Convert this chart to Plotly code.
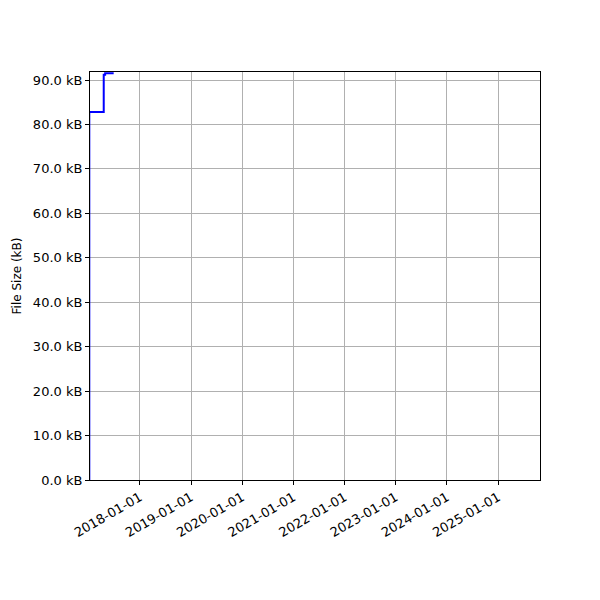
import plotly.graph_objects as go

# Données
dates = ["2017-01-05", "2017-01-05", "2017-04-18", "2017-04-28", "2017-06-28"]
sizes_kb = [0.0, 82.8, 91.2, 91.5, 91.5]

x_range = ["2017-01-10", "2025-10-27"]
y_range = [0, 91.8]

fig = go.Figure()
fig.add_trace(go.Scatter(
    x=dates, y=sizes_kb, mode='lines',
    line=dict(color='#0000ff', width=2, shape='hv'),
    showlegend=False,
))

axis_style = dict(
    showline=True, linecolor='black', linewidth=1, mirror=True,
    showgrid=True, gridcolor='#b0b0b0', gridwidth=1,
    ticks='outside', ticklen=4, tickcolor='black',
    zeroline=False, automargin=False,
)

fig.update_xaxes(
    range=x_range, type='date',
    tick0='2018-01-01', dtick='M12', tickformat='%Y-%m-%d',
    tickangle=-30,
    **axis_style,
)
fig.update_yaxes(
    range=y_range, dtick=10, tickformat='.1f', ticksuffix=' kB',
    title=dict(text='File Size (kB)', standoff=8, font=dict(size=12)),
    **axis_style,
)

# la page a une marge de 8 px : on la compense ici
fig.update_layout(
    width=600, height=600,
    margin=dict(l=82, r=68, t=64, b=128),
    plot_bgcolor='white', paper_bgcolor='white',
    font=dict(family='DejaVu Sans', size=13, color='black'),
)

fig.write_html("out.html")
